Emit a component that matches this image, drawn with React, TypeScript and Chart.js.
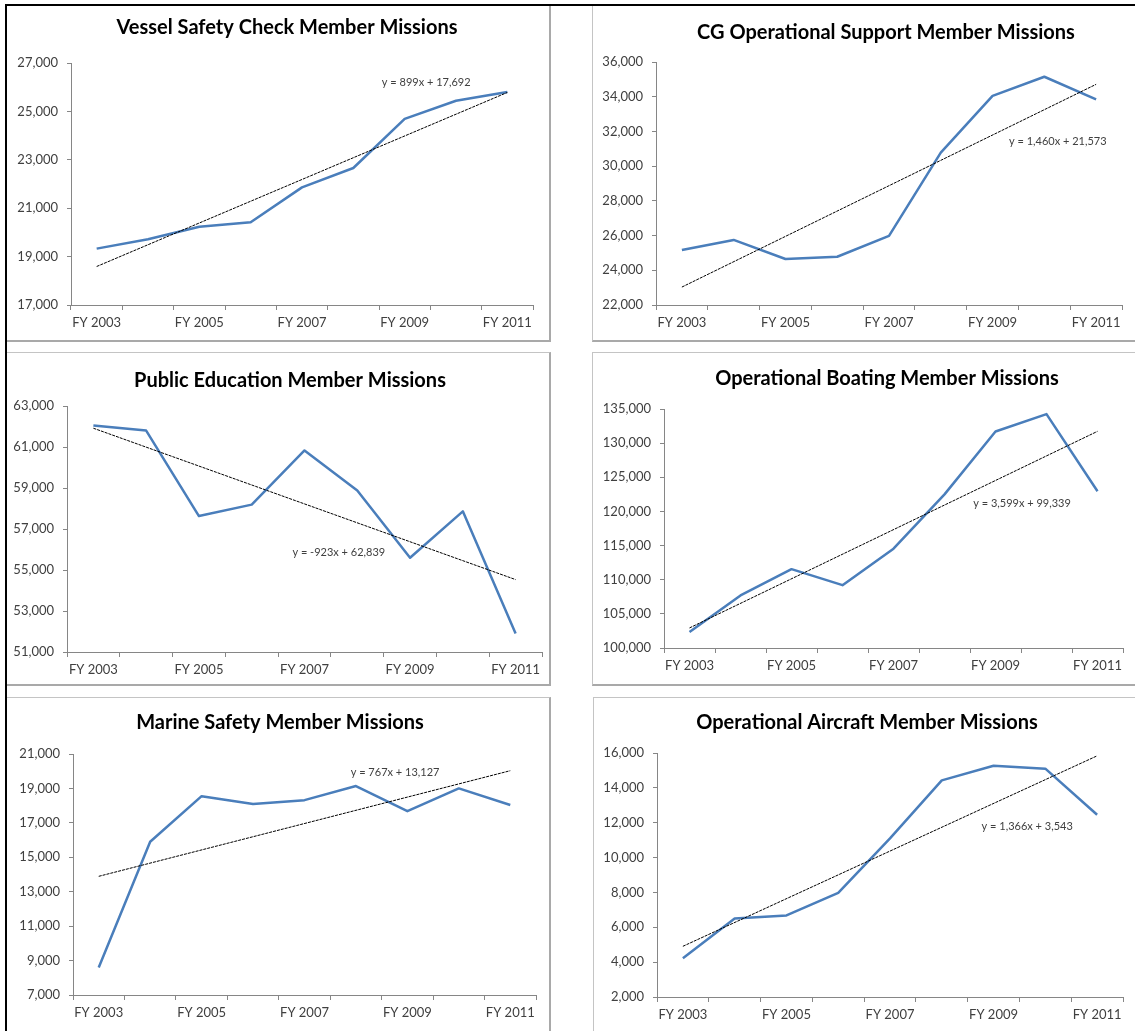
import React, { useEffect, useRef } from 'react';
import { Chart, registerables } from 'chart.js';

Chart.register(...registerables);

// ---------- DATA ----------
const years = ['FY 2003', 'FY 2004', 'FY 2005', 'FY 2006', 'FY 2007', 'FY 2008', 'FY 2009', 'FY 2010', 'FY 2011'];

const vesselSafetyCheck = [19330, 19720, 20230, 20420, 21860, 22660, 24690, 25440, 25800];
const cgOperationalSupport = [25170, 25750, 24650, 24780, 25980, 30780, 34050, 35150, 33850];
const publicEducation = [62050, 61800, 57630, 58190, 60830, 58880, 55600, 57860, 51900];
const operationalBoating = [102350, 107700, 111550, 109200, 114550, 122500, 131700, 134250, 122950];
const marineSafety = [8600, 15900, 18550, 18100, 18320, 19140, 17680, 19000, 18040];
const operationalAircraft = [4230, 6500, 6680, 7970, 11100, 14430, 15270, 15100, 12460];

// trend line end values (FY 2003, FY 2011)
const vesselTrend = [18591, 25783];
const cgOpsTrend = [23033, 34713];
const pubEdTrend = [61916, 54532];
const boatingTrend = [102938, 131730];
const marineTrend = [13894, 20030];
const aircraftTrend = [4909, 15837];

const equations = [
  'y = 899x + 17,692',
  'y = 1,460x + 21,573',
  'y = -923x + 62,839',
  'y = 3,599x + 99,339',
  'y = 767x + 13,127',
  'y = 1,366x + 3,543',
];

// y axis [min, max, step]
const yAxisTicks = [
  [17000, 27000, 2000],
  [22000, 36000, 2000],
  [51000, 63000, 2000],
  [100000, 135000, 5000],
  [7000, 21000, 2000],
  [2000, 16000, 2000],
];

const titles = [
  'Vessel Safety Check Member Missions',
  'CG Operational Support Member Missions',
  'Public Education Member Missions',
  'Operational Boating Member Missions',
  'Marine Safety Member Missions',
  'Operational Aircraft Member Missions',
];

const seriesList = [vesselSafetyCheck, cgOperationalSupport, publicEducation, operationalBoating, marineSafety, operationalAircraft];
const trendList = [vesselTrend, cgOpsTrend, pubEdTrend, boatingTrend, marineTrend, aircraftTrend];

// equation label anchor in data coords [category index, value]
const equationAnchors = [
  [6.42, 26215],
  [7.26, 31450],
  [4.65, 55880],
  [6.52, 121100],
  [5.76, 19900],
  [6.65, 11810],
];

// ---------- LAYOUT (page px) ----------
type Frame = { box: number[]; plot: number[]; titleC: number[]; right: boolean; bottom: boolean };
const frames: Frame[] = [
  { box: [6, 5, 551, 342], plot: [71, 63, 533, 305], titleC: [287, 28], right: true, bottom: true },
  { box: [592, 5, 1135, 342], plot: [656, 62, 1122, 305], titleC: [886, 33], right: false, bottom: true },
  { box: [6, 352, 551, 686], plot: [67, 406, 542, 652], titleC: [290, 381], right: true, bottom: true },
  { box: [592, 352, 1135, 686], plot: [664, 409, 1123, 648], titleC: [887, 379], right: false, bottom: true },
  { box: [6, 697, 551, 1031], plot: [73, 754, 536, 995], titleC: [280, 723], right: true, bottom: false },
  { box: [593, 697, 1135, 1031], plot: [657, 753, 1123, 997], titleC: [867, 723], right: false, bottom: false },
];

const FONT = 'Lato, "Open Sans", sans-serif';
const AXIS = '#868686';
const TEXT = '#404040';

const equationPlugin = {
  id: 'trendEquation',
  afterDatasetsDraw(chart: any, _args: any, opts: any) {
    const { ctx } = chart;
    const xs = chart.scales.x;
    const ys = chart.scales.y;
    ctx.save();
    ctx.font = `11px ${FONT}`;
    ctx.fillStyle = TEXT;
    ctx.textAlign = 'center';
    ctx.textBaseline = 'middle';
    ctx.fillText(opts.text, xs.getPixelForValue(opts.at[0]), ys.getPixelForValue(opts.at[1]));
    ctx.restore();
  },
};

const panelTitlePlugin = {
  id: 'panelTitle',
  afterDraw(chart: any, _args: any, opts: any) {
    const { ctx } = chart;
    ctx.save();
    ctx.font = `bold 20px ${FONT}`;
    ctx.fillStyle = '#000000';
    ctx.textAlign = 'center';
    ctx.textBaseline = 'middle';
    ctx.fillText(opts.text, opts.x, opts.y);
    ctx.restore();
  },
};

function Panel({ idx }: { idx: number }) {
  const ref = useRef<HTMLCanvasElement | null>(null);
  const f = frames[idx];
  const [L, T, R, B] = f.box;
  const W = R - L;
  const H = B - T;

  useEffect(() => {
    if (!ref.current) return;
    const [pl, pt, pr, pb] = f.plot;
    const padR = R - pr;
    const yWidth = pl - L;
    const xHeight = B - pb;
    const values = seriesList[idx];
    const trend = trendList[idx];
    const trendData = values.map((_, i) => (i === 0 ? trend[0] : i === values.length - 1 ? trend[1] : null));
    const [ymin, ymax, ystep] = yAxisTicks[idx];

    const chart = new Chart(ref.current, {
      type: 'line',
      data: {
        labels: years,
        datasets: [
          {
            label: 'Linear trend',
            data: trendData,
            borderColor: '#000000',
            borderWidth: 1,
            borderDash: [3, 1],
            pointRadius: 0,
            spanGaps: true,
            fill: false,
          },
          {
            label: titles[idx],
            data: values,
            borderColor: '#4A7EBB',
            borderWidth: 2.5,
            pointRadius: 0,
            fill: false,
            tension: 0,
            borderJoinStyle: 'round',
          },
        ],
      },
      options: {
        responsive: false,
        animation: false,
        devicePixelRatio: 1,
        layout: { padding: { left: 0, right: padR, top: pt - T, bottom: 0 } },
        plugins: {
          legend: { display: false },
          tooltip: { enabled: false },
          title: { display: false },
          panelTitle: { text: titles[idx], x: f.titleC[0] - L, y: f.titleC[1] - T },
          trendEquation: { text: equations[idx], at: equationAnchors[idx] },
        } as any,
        scales: {
          x: {
            type: 'category',
            offset: true,
            grid: { offset: true, drawOnChartArea: false, drawTicks: true, tickLength: 5, color: AXIS },
            border: { display: true, color: AXIS, width: 1 },
            ticks: {
              autoSkip: false,
              maxRotation: 0,
              minRotation: 0,
              padding: 5,
              color: TEXT,
              font: { family: FONT, size: 13 },
              callback: (_v: any, i: number) => (i % 2 === 0 ? years[i] : ''),
            },
            afterFit: (s: any) => {
              s.height = xHeight;
            },
          },
          y: {
            type: 'linear',
            min: ymin,
            max: ymax,
            grid: { drawOnChartArea: false, drawTicks: true, tickLength: 4, color: AXIS },
            border: { display: true, color: AXIS, width: 1 },
            ticks: {
              stepSize: ystep,
              padding: 9,
              color: TEXT,
              font: { family: FONT, size: 13 },
            },
            afterFit: (s: any) => {
              s.width = yWidth;
            },
          },
        },
      },
      plugins: [equationPlugin, panelTitlePlugin],
    } as any);
    return () => chart.destroy();
  }, [idx]);

  return (
    <>
      <canvas
        ref={ref}
        width={W}
        height={H}
        style={{ position: 'absolute', left: L, top: T, width: W, height: H, display: 'block' }}
      />
      <div
        style={{
          position: 'absolute',
          left: L,
          top: T,
          width: W,
          height: H,
          boxSizing: 'border-box',
          borderLeft: '1px solid #c4c4c4',
          borderTop: '1px solid #c4c4c4',
          borderRight: f.right ? '2px solid #a9a9a9' : 'none',
          borderBottom: f.bottom ? '2px solid #a9a9a9' : 'none',
          pointerEvents: 'none',
        }}
      />
    </>
  );
}

export default function App() {
  return (
    <div
      style={{
        position: 'absolute',
        left: 0,
        top: 0,
        width: 1135,
        height: 1031,
        overflow: 'hidden',
        background: '#ffffff',
      }}
    >
      {frames.map((_, i) => (
        <Panel key={i} idx={i} />
      ))}
      <div style={{ position: 'absolute', left: 5, top: 4, width: 1130, height: 2, background: '#000' }} />
      <div style={{ position: 'absolute', left: 5, top: 4, width: 2, height: 1027, background: '#000' }} />
    </div>
  );
}
